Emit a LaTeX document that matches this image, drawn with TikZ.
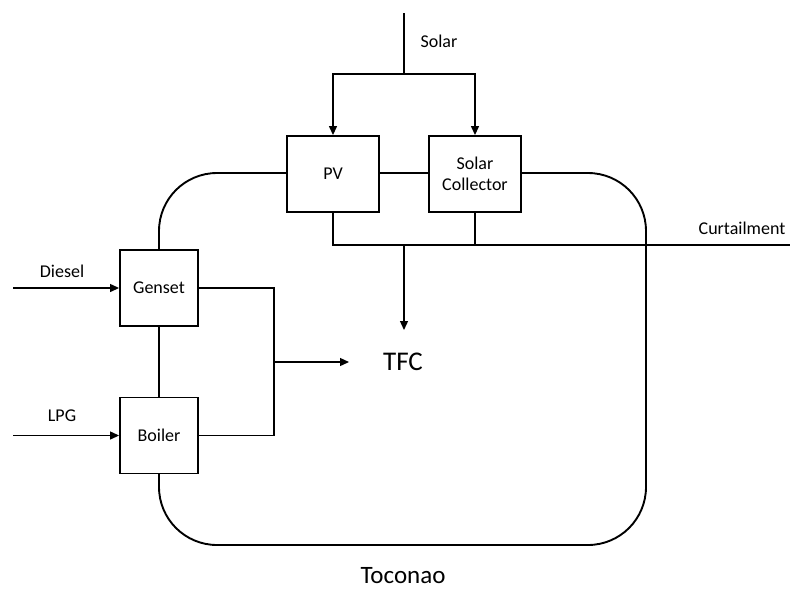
\documentclass[tikz,border=0pt]{standalone}
\usepackage{fontspec}
\setmainfont{Carlito}
\usetikzlibrary{arrows.meta}
\begin{document}
\begin{tikzpicture}[x=1pt,y=-1pt,
  box/.style={draw,line width=1.9pt,fill=white,minimum width=92pt,minimum height=76pt,inner sep=0pt,align=center,font=\fontsize{18}{21}\selectfont},
  sbox/.style={box,minimum width=78pt},
  conn/.style={line width=1.3pt},
  arr/.style={conn,-{Triangle[length=9pt,width=8pt]}},
  lbl/.style={font=\fontsize{18}{21}\selectfont,inner sep=0pt},
  big/.style={font=\fontsize{27}{30}\selectfont,inner sep=0pt}]
\useasboundingbox (0,0) rectangle (790,590);
% system boundary
\draw[line width=1.9pt,rounded corners=58pt] (159,173) rectangle (646,545);
% boxes
\node[box] (pv) at (333,174) {PV};
\node[box] (sc) at (475,174) {Solar\\Collector};
\node[sbox] (gen) at (159,288) {Genset};
\node[sbox] (boil) at (159,435.5) {Boiler};
\node[big] (tfc) at (403,362) {TFC};
% solar input
\coordinate (stop) at (404,13);
\coordinate (sj) at (404,74);
\draw[conn] (stop) -- (sj);
\draw[arr] (sj) -| (pv.north);
\draw[arr] (sj) -| (sc.north);
\node[lbl] (solar) at (439,41) {Solar};
% curtailment
\coordinate (cj) at (404,245);
\coordinate (cend) at (790,245);
\coordinate (tfctop) at (404,330);
\draw[conn] (pv.south) |- (cend);
\draw[conn] (sc.south) -- (sc.south |- cend);
\draw[arr] (cj) -- (tfctop);
\node[lbl] (curt) at (742,228) {Curtailment};
% genset / boiler to TFC
\coordinate (bus) at (274,362);
\coordinate (tfcl) at (349,362);
\draw[conn] (gen.east) -| (bus);
\draw[conn] (boil.east) -| (bus);
\draw[arr] (bus) -- (tfcl);
% fuels
\coordinate (din) at (13,288);
\coordinate (lin) at (13,435.5);
\draw[arr] (din) -- (gen.west);
\draw[arr] (lin) -- (boil.west);
\node[lbl] (diesel) at (62,271) {Diesel};
\node[lbl] (lpg) at (62,416) {LPG};
% site label
\node[font=\fontsize{25}{30}\selectfont,inner sep=0pt,anchor=base] (site) at (403,583) {Toconao};
\end{tikzpicture}
\end{document}
